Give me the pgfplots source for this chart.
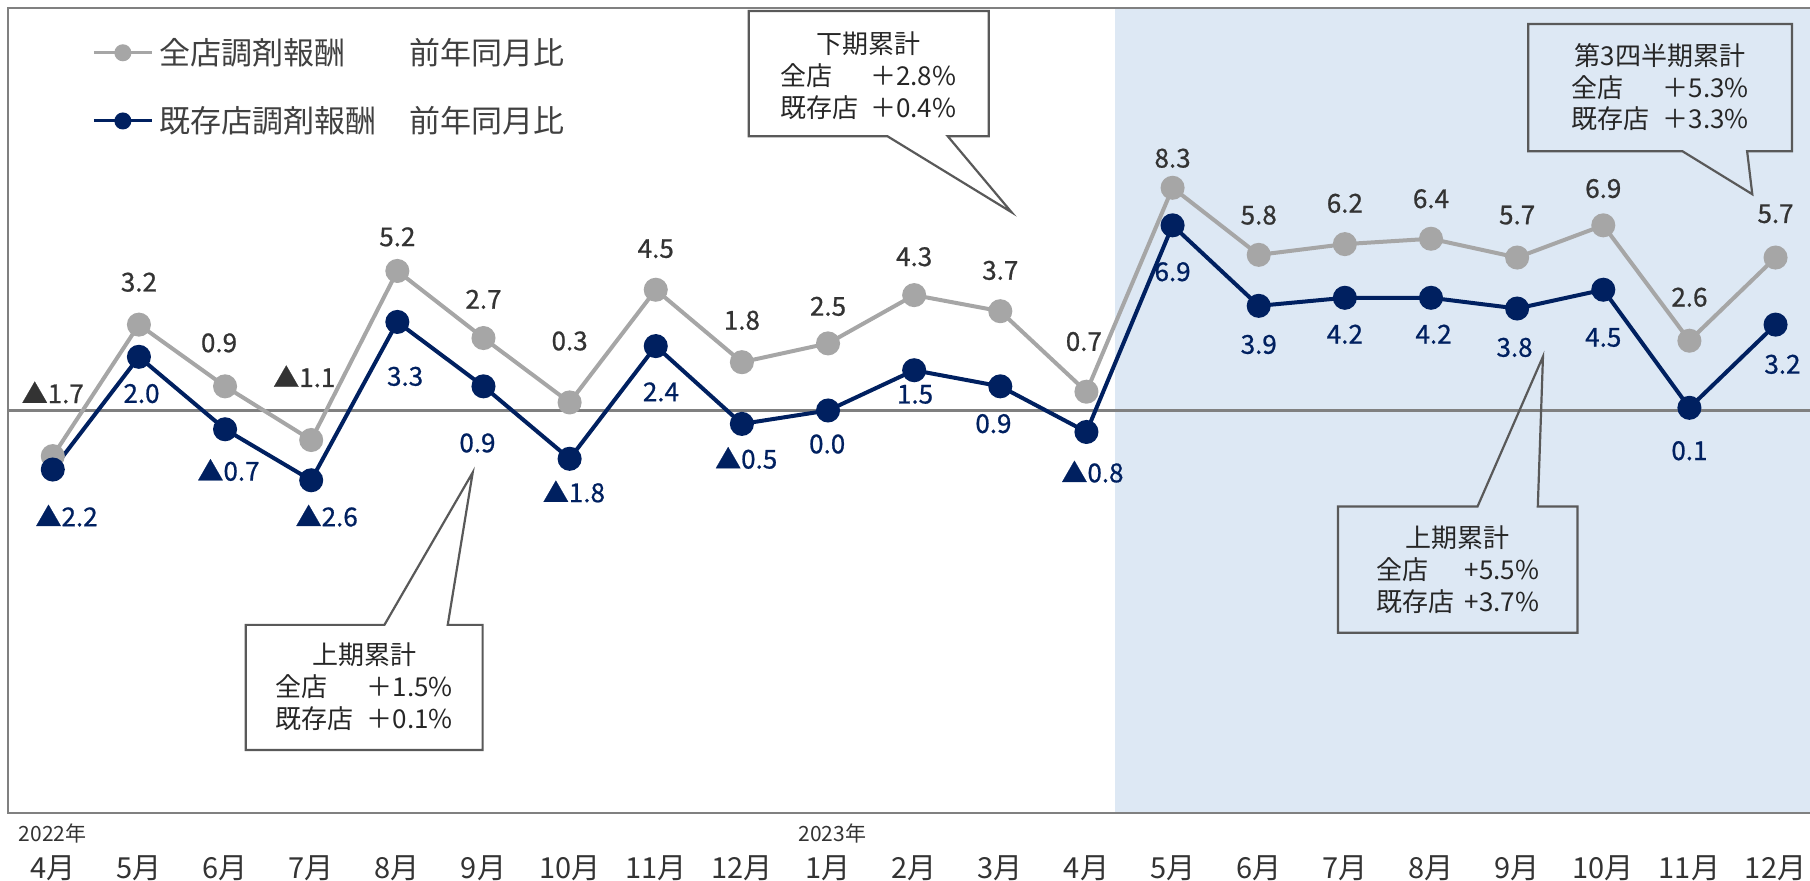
\documentclass[border=0pt]{standalone}
\usepackage{fontspec}
\setmainfont{Noto Sans CJK JP}
\newfontfamily\lblfont{Noto Sans CJK JP}[FakeBold=0.8]
\usepackage{pgfplots}
\pgfplotsset{compat=1.18}
\usepackage{pgfplotstable}

\definecolor{allgray}{RGB}{166,166,166}
\definecolor{navy}{RGB}{0,32,96}
\definecolor{shade}{RGB}{221,232,244}
\definecolor{framegray}{RGB}{128,128,128}
\definecolor{boxline}{RGB}{89,89,89}
\definecolor{txt}{RGB}{64,64,64}

% 前年同月比 (%), 2022/4 .. 2023/12
\pgfplotstableread{
x all exist
0 -1.7 -2.2
1 3.2 2.0
2 0.9 -0.7
3 -1.1 -2.6
4 5.2 3.3
5 2.7 0.9
6 0.3 -1.8
7 4.5 2.4
8 1.8 -0.5
9 2.5 0.0
10 4.3 1.5
11 3.7 0.9
12 0.7 -0.8
13 8.3 6.9
14 5.8 3.9
15 6.2 4.2
16 6.4 4.2
17 5.7 3.8
18 6.9 4.5
19 2.6 0.1
20 5.7 3.2
}\rates

% label positions
\pgfplotstableread{
x y lab
0 0.67 ▲1.7
1 4.78 3.2
1.93 2.52 0.9
2.92 1.27 ▲1.1
4 6.47 5.2
5 4.14 2.7
6 2.59 0.3
7 6.03 4.5
8 3.36 1.8
9 3.88 2.5
10 5.73 4.3
11 5.22 3.7
11.97 2.57 0.7
13 9.4 8.3
14 7.28 5.8
15 7.72 6.2
16 7.89 6.4
17 7.28 5.7
18 8.27 6.9
19 4.22 2.6
20 7.33 5.7
}\alllabels

\pgfplotstableread{
x y lab
0.16 -3.92 ▲2.2
1.03 0.63 2.0
2.04 -2.22 ▲0.7
3.18 -3.92 ▲2.6
4.09 1.27 3.3
4.93 -1.21 0.9
6.05 -3.02 ▲1.8
7.06 0.69 2.4
8.05 -1.77 ▲0.5
8.99 -1.25 0.0
10.01 0.6 1.5
10.92 -0.49 0.9
12.07 -2.28 ▲0.8
13 5.17 6.9
14 2.46 3.9
15 2.84 4.2
16.03 2.84 4.2
16.97 2.35 3.8
18 2.72 4.5
19 -1.5 0.1
20.08 1.72 3.2
}\existlabels

\begin{document}
\begin{tikzpicture}[
  callout/.style={draw=boxline, line width=1.1pt, line join=miter},
  boxtext/.style={align=center, font=\fontsize{13}{16}\selectfont, text=black!85, inner sep=0pt}]
\begin{axis}[
  name=ax,
  scale only axis, width=901pt, height=402.5pt,
  xmin=-0.52, xmax=20.4, ymin=-15, ymax=15,
  axis line style={draw=none},
  clip=false,
  xtick={0,...,20}, ytick=\empty, major tick length=0pt,
  xticklabels={4月,5月,6月,7月,8月,9月,10月,11月,12月,1月,2月,3月,4月,5月,6月,7月,8月,9月,10月,11月,12月},
  xticklabel style={font=\fontsize{14.5}{16}\selectfont, text=black!80, anchor=center, yshift=-27.5pt},
  legend cell align=left,
  legend style={at={(rel axis cs:0.0466,0.963)}, anchor=north west, draw=none, fill=none,
    inner sep=0pt, row sep=19.5pt, column sep=3pt,
    font=\fontsize{15.5}{18}\selectfont, text=txt,
    nodes={inner sep=0pt}},
  legend image code/.code={%
    \draw[#1, line width=1.5pt, mark size=3.5pt, mark repeat=2, mark phase=2]
      plot coordinates {(0pt,0pt) (14.5pt,0pt) (29pt,0pt)};},
  every node near coord/.append style={anchor=center, font=\lblfont\fontsize{13}{15}\selectfont},
]
% shaded period
\addplot[draw=none, fill=shade, forget plot] coordinates {(12.33,-15) (20.4,-15) (20.4,15) (12.33,15)} -- cycle;
% zero line
\addplot[framegray, line width=1.2pt, forget plot] coordinates {(-0.52,0) (20.4,0)};

\addplot[allgray, line width=2pt, mark=*, mark size=5pt, mark options={fill=allgray, draw=allgray}]
  table[x=x, y=all] {\rates};
\addlegendentry{\makebox[125pt][l]{全店調剤報酬}前年同月比}
\addplot[navy, line width=2pt, mark=*, mark size=5pt, mark options={fill=navy, draw=navy}]
  table[x=x, y=exist] {\rates};
\addlegendentry{\makebox[125pt][l]{既存店調剤報酬}前年同月比}

% value labels
\addplot[only marks, mark=none, forget plot, point meta=explicit symbolic,
  nodes near coords, every node near coord/.append style={text=black!80}]
  table[x=x, y=y, meta=lab] {\alllabels};
\addplot[only marks, mark=none, forget plot, point meta=explicit symbolic,
  nodes near coords, every node near coord/.append style={text=navy}]
  table[x=x, y=y, meta=lab] {\existlabels};

% year labels
\node[font=\fontsize{10.5}{12}\selectfont, text=black!80, anchor=center, yshift=-10pt] at (axis cs:0,-15) {2022年};
\node[font=\fontsize{10.5}{12}\selectfont, text=black!80, anchor=center, yshift=-10pt] at (axis cs:9.05,-15) {2023年};

% callouts
\draw[callout] (axis cs:8.08,14.89) -- (axis cs:10.865,14.89) -- (axis cs:10.865,10.22)
  -- (axis cs:10.39,10.22) -- (axis cs:11.13,7.39) -- (axis cs:9.69,10.22)
  -- (axis cs:8.08,10.22) -- cycle;
\node[boxtext] at (axis cs:9.47,12.46) {下期累計\\\makebox[3.45em][l]{全店}＋2.8\%\\\makebox[3.45em][l]{既存店}＋0.4\%};

\draw[callout] (axis cs:17.13,14.40) -- (axis cs:20.19,14.40) -- (axis cs:20.19,9.66)
  -- (axis cs:19.67,9.66) -- (axis cs:19.73,8.06) -- (axis cs:18.92,9.66)
  -- (axis cs:17.13,9.66) -- cycle;
\node[boxtext, font=\fontsize{13}{15.75}\selectfont] at (axis cs:18.66,12.04) {第3四半期累計\\\makebox[3.5em][l]{全店}＋5.3\%\\\makebox[3.5em][l]{既存店}＋3.3\%};

\draw[callout] (axis cs:14.92,-8.28) -- (axis cs:17.70,-8.28) -- (axis cs:17.70,-3.58)
  -- (axis cs:17.24,-3.58) -- (axis cs:17.30,2.01) -- (axis cs:16.54,-3.58)
  -- (axis cs:14.92,-3.58) -- cycle;
\node[boxtext] at (axis cs:16.31,-5.93) {上期累計\\\makebox[3.4em][l]{全店}+5.5\%\\\makebox[3.4em][l]{既存店}+3.7\%};

\draw[callout] (axis cs:2.24,-12.65) -- (axis cs:4.99,-12.65) -- (axis cs:4.99,-7.99)
  -- (axis cs:4.585,-7.99) -- (axis cs:4.875,-2.31) -- (axis cs:3.85,-7.99)
  -- (axis cs:2.24,-7.99) -- cycle;
\node[boxtext] at (axis cs:3.615,-10.3) {上期累計\\\makebox[3.5em][l]{全店}＋1.5\%\\\makebox[3.5em][l]{既存店}＋0.1\%};

% frame (right side cut off)
\draw[framegray, line width=1.3pt] (rel axis cs:1,1) -- (rel axis cs:0,1) -- (rel axis cs:0,0) -- (rel axis cs:1,0);
\end{axis}
\pgfresetboundingbox
\path[use as bounding box] (ax.south west) ++(-4pt,-34pt) rectangle ++(905pt,440.5pt);
\end{tikzpicture}
\end{document}
